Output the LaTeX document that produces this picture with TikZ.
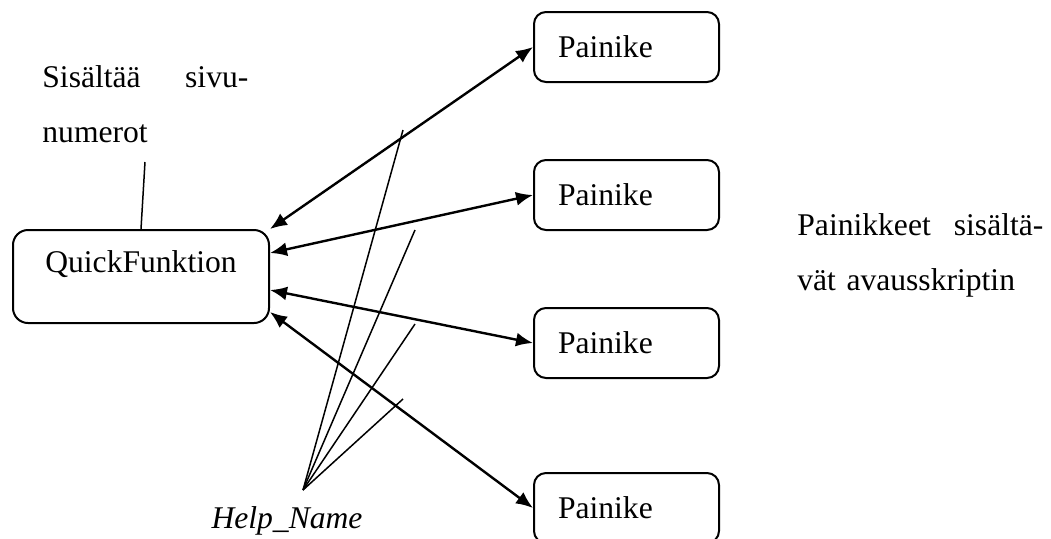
\documentclass[tikz,border=0pt]{standalone}
\usepackage{fontspec}
\setmainfont{Liberation Serif}
\usepackage{tikz}
\usetikzlibrary{arrows.meta}

\begin{document}
\begin{tikzpicture}[x=0.5pt,y=-0.5pt]

	\useasboundingbox (0,0) rectangle (1051,538);

	\tikzstyle{link} = [draw,line width=1.2pt,{Latex[length=8.5pt,width=7pt]}-{Latex[length=8.5pt,width=7pt]}]
	\tikzstyle{edge} = [draw,-,line width=0.75pt]
	\tikzset{every node/.style={font=\fontsize{15.8}{27.5}\selectfont}}

	\tikzset{vertex/.style = {shape=rectangle,draw,line width=1pt,rounded corners=7.5pt,minimum width=128pt,minimum height=46.5pt,inner sep=0pt,text height=11pt,text depth=15pt}}
	\node[vertex] (qf) at (141,276.5) {QuickFunktion};

	\tikzset{vertex/.style = {shape=rectangle,draw,line width=1pt,rounded corners=6pt,minimum height=35pt,text width=68.5pt,inner xsep=12pt,align=left}}
	\node[vertex] (p1) at (626.5,47) {Painike};
	\node[vertex] (p2) at (626.5,195) {Painike};
	\node[vertex] (p3) at (626.5,343) {Painike};
	\node[vertex] (p4) at (626.5,508) {Painike};

	\node[anchor=north west,inner sep=0pt,text width=103pt,align=left] (sivut) at (42,65) {\hbox to 103pt{Sisältää\hfill sivu-}\\numerot};
	\node[anchor=north west,inner sep=0pt,text width=123pt,align=left] (skripti) at (797,213) {\hbox to 123pt{Painikkeet\hfill sisältä-}\\vät avausskriptin};
	\node (hn) at (287,521) {\textit{Help\_Name}};

	\coordinate (sv) at (145,162);
	\draw[edge] (qf.north) to (sv);

	% help name lines
	\coordinate (fan) at (303,490);
	\coordinate (h1) at (403,130);
	\coordinate (h2) at (415,230);
	\coordinate (h3) at (415,324);
	\coordinate (h4) at (403,399);
	\draw[edge] (fan) to (h1);
	\draw[edge] (fan) to (h2);
	\draw[edge] (fan) to (h3);
	\draw[edge] (fan) to (h4);

	\draw[link] (qf.north east) to (p1.west);
	\draw[link] ([yshift=11.75pt]qf.east) to (p2.west);
	\draw[link] ([yshift=-6.75pt]qf.east) to (p3.west);
	\draw[link] ([yshift=-17.75pt]qf.east) to (p4.west);
\end{tikzpicture}
\end{document}
